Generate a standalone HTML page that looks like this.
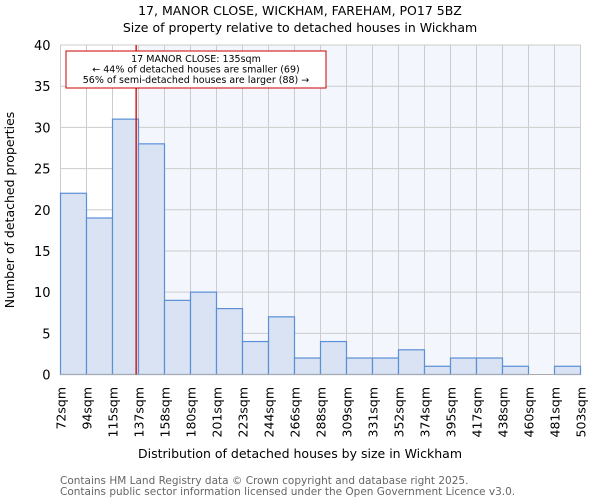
<!DOCTYPE html>
<html><head><meta charset="utf-8"><style>
body{margin:0;background:#fff;font-family:"DejaVu Sans","Liberation Sans",sans-serif}
</style></head><body>
<svg id="chart" width="600" height="500" xmlns="http://www.w3.org/2000/svg" font-family="DejaVu Sans, Liberation Sans, sans-serif">
<text x="300" y="15" text-anchor="middle" font-size="12.5">17, MANOR CLOSE, WICKHAM, FAREHAM, PO17 5BZ</text>
<text x="300" y="32" text-anchor="middle" font-size="12.5">Size of property relative to detached houses in Wickham</text>
<g id="plot"></g>
<text transform="translate(14,210) rotate(-90)" text-anchor="middle" font-size="12.5">Number of detached properties</text>
<text x="300" y="458" text-anchor="middle" font-size="12.5">Distribution of detached houses by size in Wickham</text>
<text x="60" y="484" font-size="10.5" fill="#666">Contains HM Land Registry data © Crown copyright and database right 2025.</text>
<text x="60" y="495" font-size="10.5" fill="#666">Contains public sector information licensed under the Open Government Licence v3.0.</text>
</svg>
<script>
const tickLabels=["72sqm","94sqm","115sqm","137sqm","158sqm","180sqm","201sqm","223sqm","244sqm","266sqm","288sqm","309sqm","331sqm","352sqm","374sqm","395sqm","417sqm","438sqm","460sqm","481sqm","503sqm"];
const binEdges=[72,94,115,137,158,180,201,223,244,266,288,309,331,352,374,395,417,438,460,481,503];
const counts=[22,19,31,28,9,10,8,4,7,2,4,2,2,3,1,2,2,1,0,1];
const yTicks=[0,5,10,15,20,25,30,35,40];
const subjectSize=135;
const annotationLines=["17 MANOR CLOSE: 135sqm","← 44% of detached houses are smaller (69)","56% of semi-detached houses are larger (88) →"];

const X0=60.5,X1=580.5,Y0=374.5,Y1=45,YMAX=40;
const NS="http://www.w3.org/2000/svg";
const g=document.getElementById('plot');
const nb=counts.length;
const bw=(X1-X0)/nb;
const xIdx=i=>X0+i*bw;
function xVal(v){for(let i=0;i<binEdges.length-1;i++){if(v<=binEdges[i+1])return xIdx(i)+bw*(v-binEdges[i])/(binEdges[i+1]-binEdges[i]);}return X1;}
const y=v=>Y0-(Y0-Y1)*v/YMAX;
function el(t,a){const e=document.createElementNS(NS,t);for(const k in a)e.setAttribute(k,a[k]);g.appendChild(e);return e;}
const rx=xVal(subjectSize);
let bgL=el('rect',{x:X0,y:Y1,width:rx-X0,height:Y0-Y1,fill:'#ffffff'});


let bgR=el('rect',{x:rx,y:Y1,width:X1-rx,height:Y0-Y1,fill:'#f3f6fd'});


yTicks.forEach(t=>{
  let l=el('line',{x1:X0,x2:X1,y1:y(t),y2:y(t),stroke:'#cccccc','stroke-width':1});
  
  
  let tx=el('text',{x:X0-10,y:y(t)+5,'text-anchor':'end','font-size':13});
  tx.textContent=t;
  
  
});
tickLabels.forEach((s,i)=>{
  let l=el('line',{x1:xIdx(i),x2:xIdx(i),y1:Y1,y2:Y0,stroke:'#cccccc','stroke-width':1});
  
  
  let tx=el('text',{transform:`translate(${xIdx(i)+5},387) rotate(-90)`,'text-anchor':'end','font-size':12.5});
  tx.textContent=s;
  
  
});
counts.forEach((c,i)=>{
  if(c<=0)return;
  let r=el('rect',{x:xIdx(i),y:y(c),width:bw,height:Y0-y(c),fill:'#d9e3f4',stroke:'#5b8fd6','stroke-width':1.2});
  
  
});
let ax=el('line',{x1:X0,x2:X1,y1:Y0,y2:Y0,stroke:'#aaaaaa','stroke-width':1});


let rl=el('line',{x1:rx,x2:rx,y1:Y1,y2:Y0,stroke:'#cc0000','stroke-width':1.3});


let box=el('rect',{x:66,y:51,width:260,height:37,fill:'#fff',stroke:'#cc0000','stroke-width':1});


annotationLines.forEach((s,i)=>{
  let t=el('text',{x:196,y:62+i*10.5,'text-anchor':'middle','font-size':9.5});
  t.textContent=s;
  
  
});
</script>
</body></html>
